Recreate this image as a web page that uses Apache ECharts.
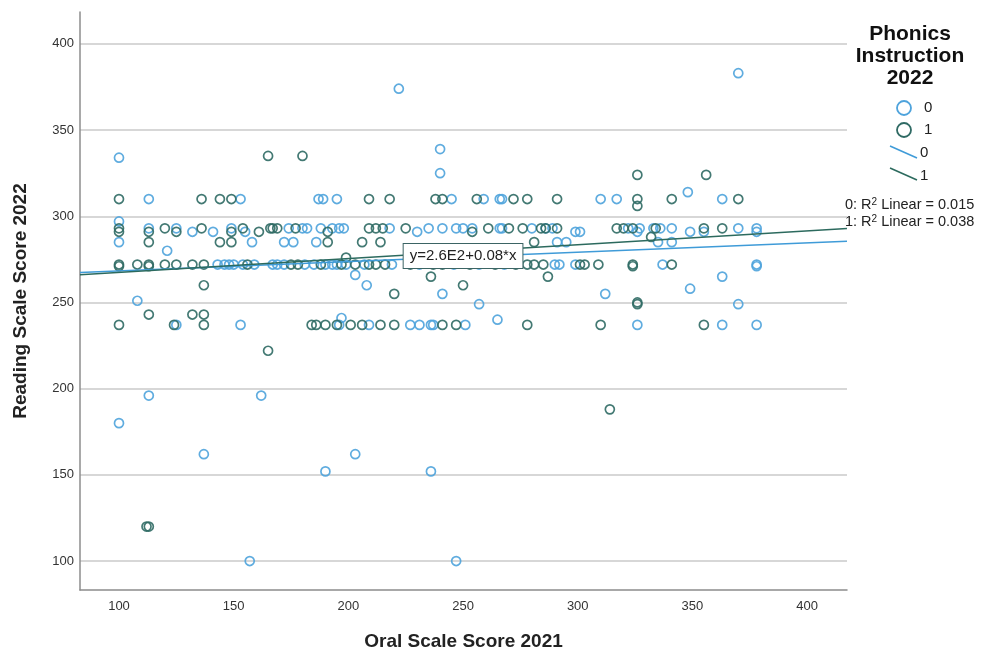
<!DOCTYPE html>
<html>
<head>
<meta charset="utf-8">
<script src="https://cdn.jsdelivr.net/npm/echarts@6/dist/echarts.min.js"></script>
<style>
html, body { margin: 0; padding: 0; background: #fff; }
#chart { width: 981px; height: 656px; }
</style>
</head>
<body>
<div id="chart"></div>
<script>
// tick labels
const xTicks = [100, 150, 200, 250, 300, 350, 400]
const yTicks = [100, 150, 200, 250, 300, 350, 400]

// Phonics Instruction 2022 = 0  [oral 2021, reading 2022]
const group0 = [
  [100, 334], [222, 374], [240, 339], [240, 325], [370, 383], [348, 314],
  [113, 310], [153, 310], [187, 310], [189, 310], [195, 310], [245, 310], [259, 310], [266, 310], [267, 310], [310, 310], [317, 310], [363, 310],
  [100, 297],
  [113, 293], [125, 293], [149, 293], [174, 293], [180, 293], [182, 293], [188, 293], [193, 293], [196, 293], [198, 293], [218, 293], [235, 293],
  [241, 293], [247, 293], [250, 293], [254, 293], [266, 293], [267, 293], [280, 293], [286, 293], [289, 293], [322, 293], [327, 293], [333, 293],
  [336, 293], [341, 293], [370, 293], [378, 293],
  [132, 291], [141, 291], [155, 291], [230, 291], [299, 291], [301, 291], [326, 291], [349, 291], [355, 291], [378, 291],
  [100, 285], [158, 285], [172, 285], [176, 285], [186, 285], [291, 285], [295, 285], [335, 285], [341, 285],
  [121, 280],
  [143, 272], [146, 272], [148, 272], [150, 272], [154, 272], [159, 272], [167, 272], [169, 272], [172, 272], [181, 272], [185, 272], [190, 272],
  [193, 272], [195, 272], [199, 272], [207, 272], [219, 272], [231, 272], [246, 272], [257, 272], [268, 272], [290, 272], [292, 272], [299, 272],
  [337, 272], [378, 272], [378, 271],
  [203, 266], [363, 265], [208, 260], [241, 255], [312, 255], [349, 258],
  [108, 251], [257, 249], [370, 249], [197, 241], [265, 240],
  [125, 237], [153, 237], [196, 237], [209, 237], [227, 237], [231, 237], [236, 237], [237, 237], [251, 237], [326, 237], [363, 237], [378, 237],
  [113, 196], [162, 196], [100, 180], [137, 162], [203, 162], [190, 152], [236, 152], [157, 100], [247, 100]
]

// Phonics Instruction 2022 = 1
const group1 = [
  [165, 335], [180, 335], [326, 324], [356, 324],
  [100, 310], [136, 310], [144, 310], [149, 310], [209, 310], [218, 310], [238, 310], [241, 310], [256, 310], [272, 310], [278, 310], [291, 310],
  [326, 310], [341, 310], [370, 310], [326, 306],
  [100, 293], [120, 293], [136, 293], [154, 293], [166, 293], [167, 293], [169, 293], [177, 293], [209, 293], [212, 293], [215, 293], [225, 293],
  [261, 293], [270, 293], [276, 293], [284, 293], [286, 293], [291, 293], [317, 293], [320, 293], [324, 293], [334, 293], [355, 293], [363, 293],
  [100, 291], [113, 291], [125, 291], [149, 291], [161, 291], [191, 291], [254, 291],
  [332, 288],
  [113, 285], [144, 285], [149, 285], [191, 285], [206, 285], [214, 285], [281, 285],
  [199, 276],
  [100, 272], [100, 271], [108, 272], [113, 272], [113, 271], [120, 272], [125, 272], [132, 272], [137, 272], [156, 272], [175, 272], [178, 272],
  [188, 272], [197, 272], [203, 272], [209, 272], [212, 272], [216, 272], [227, 272], [237, 272], [241, 272], [253, 272], [264, 272], [273, 272],
  [278, 272], [281, 272], [285, 272], [301, 272], [303, 272], [309, 272], [324, 272], [324, 271], [341, 272],
  [236, 265], [287, 265], [137, 260], [250, 260], [220, 255], [326, 249], [326, 250],
  [113, 243], [132, 243], [137, 243],
  [100, 237], [124, 237], [137, 237], [184, 237], [186, 237], [190, 237], [195, 237], [201, 237], [206, 237], [214, 237], [220, 237], [241, 237],
  [247, 237], [278, 237], [310, 237], [355, 237],
  [165, 222], [314, 188], [112, 120], [113, 120]
]

// linear fit lines per group
const fit0 = { intercept: 262.9, slope: 0.054, r2: '0.015' }
const fit1 = { intercept: 259.5, slope: 0.08, r2: '0.038' }
const fitLabel = 'y=2.6E2+0.08*x'
const fitLabelAt = [250, 277]

const xMin = 83
const xMax = 417.4
const yMin = 83.2
const yMax = 418.5

const blue = '#4ea3dc'
const dark = '#2f6a64'
const font = 'Liberation Sans, Arial, sans-serif'

function fitData(f) {
  return [[xMin, f.intercept + f.slope * xMin], [xMax, f.intercept + f.slope * xMax]]
}

const chart = echarts.init(document.getElementById('chart'))

const option = {
  backgroundColor: '#fff',
  animation: false,
  grid: { left: 80, right: 134, top: 12, bottom: 64 },
  xAxis: {
    type: 'value',
    min: xMin,
    max: xMax,
    name: 'Oral Scale Score 2021',
    nameLocation: 'middle',
    nameGap: 42,
    nameTextStyle: { fontFamily: font, fontSize: 19, fontWeight: 'bold', color: '#222' },
    axisLine: { show: true, lineStyle: { color: '#8c8c8c', width: 1.5 } },
    axisTick: { show: false, customValues: xTicks },
    axisLabel: { customValues: xTicks, fontFamily: font, fontSize: 13, color: '#333', margin: 10 },
    splitLine: { show: false }
  },
  yAxis: {
    type: 'value',
    min: yMin,
    max: yMax,
    name: 'Reading Scale Score 2022',
    nameLocation: 'middle',
    nameGap: 50,
    nameTextStyle: { fontFamily: font, fontSize: 19, fontWeight: 'bold', color: '#222' },
    axisLine: { show: true, lineStyle: { color: '#8c8c8c', width: 1.5 } },
    axisTick: { show: false, customValues: yTicks },
    axisLabel: { customValues: yTicks, fontFamily: font, fontSize: 13, color: '#333', margin: 6 },
    splitLine: { show: true, lineStyle: { color: '#cacaca', width: 1.6 } }
  },
  series: [
    {
      name: '0',
      type: 'scatter',
      data: group0,
      symbol: 'circle',
      symbolSize: 9,
      itemStyle: { color: 'rgba(0,0,0,0)', borderColor: blue, borderWidth: 1.7, opacity: 0.9 },
      emphasis: { disabled: true },
      z: 2
    },
    {
      name: '1',
      type: 'scatter',
      data: group1,
      symbol: 'circle',
      symbolSize: 9,
      itemStyle: { color: 'rgba(0,0,0,0)', borderColor: dark, borderWidth: 1.7, opacity: 0.9 },
      emphasis: { disabled: true },
      z: 3
    },
    {
      name: 'fit0',
      type: 'line',
      data: fitData(fit0),
      showSymbol: false,
      silent: true,
      lineStyle: { color: '#3f9bd8', width: 1.5 },
      z: 4
    },
    {
      name: 'fit1',
      type: 'line',
      data: fitData(fit1),
      showSymbol: false,
      silent: true,
      lineStyle: { color: '#2c6a5e', width: 1.5 },
      z: 5,
      markPoint: {
        symbol: 'rect',
        symbolSize: 0,
        silent: true,
        data: [{ coord: fitLabelAt }],
        label: {
          show: true,
          position: 'inside',
          formatter: fitLabel,
          fontFamily: font,
          fontSize: 15,
          color: '#222',
          backgroundColor: '#fff',
          borderColor: '#3b6464',
          borderWidth: 1,
          padding: [5, 6, 4, 6]
        },
        z: 10
      }
    }
  ],
  graphic: [
    {
      type: 'text',
      x: 910,
      y: 23,
      style: {
        text: 'Phonics\nInstruction\n2022',
        align: 'center',
        font: 'bold 21px ' + font,
        lineHeight: 22,
        fill: '#111'
      }
    },
    { type: 'circle', shape: { cx: 904, cy: 108, r: 7 }, style: { fill: 'none', stroke: blue, lineWidth: 1.8 } },
    { type: 'text', x: 924, y: 108, style: { text: '0', font: '15px ' + font, fill: '#222', verticalAlign: 'middle' } },
    { type: 'circle', shape: { cx: 904, cy: 130, r: 7 }, style: { fill: 'none', stroke: dark, lineWidth: 1.8 } },
    { type: 'text', x: 924, y: 130, style: { text: '1', font: '15px ' + font, fill: '#222', verticalAlign: 'middle' } },
    { type: 'line', shape: { x1: 890, y1: 146, x2: 917, y2: 158 }, style: { stroke: '#3f9bd8', lineWidth: 1.5 } },
    { type: 'text', x: 920, y: 153, style: { text: '0', font: '15px ' + font, fill: '#222', verticalAlign: 'middle' } },
    { type: 'line', shape: { x1: 890, y1: 168, x2: 917, y2: 180 }, style: { stroke: '#2c6a5e', lineWidth: 1.5 } },
    { type: 'text', x: 920, y: 176, style: { text: '1', font: '15px ' + font, fill: '#222', verticalAlign: 'middle' } },
    {
      type: 'text',
      x: 845,
      y: 205,
      style: {
        text: '0: R{s|2} Linear = ' + fit0.r2,
        font: '14.5px ' + font,
        fill: '#222',
        verticalAlign: 'middle',
        rich: { s: { fontSize: 10, verticalAlign: 'top', padding: [0, 0, 6, 0] } }
      }
    },
    {
      type: 'text',
      x: 845,
      y: 222,
      style: {
        text: '1: R{s|2} Linear = ' + fit1.r2,
        font: '14.5px ' + font,
        fill: '#222',
        verticalAlign: 'middle',
        rich: { s: { fontSize: 10, verticalAlign: 'top', padding: [0, 0, 6, 0] } }
      }
    }
  ]
}

chart.setOption(option)
</script>
</body>
</html>
